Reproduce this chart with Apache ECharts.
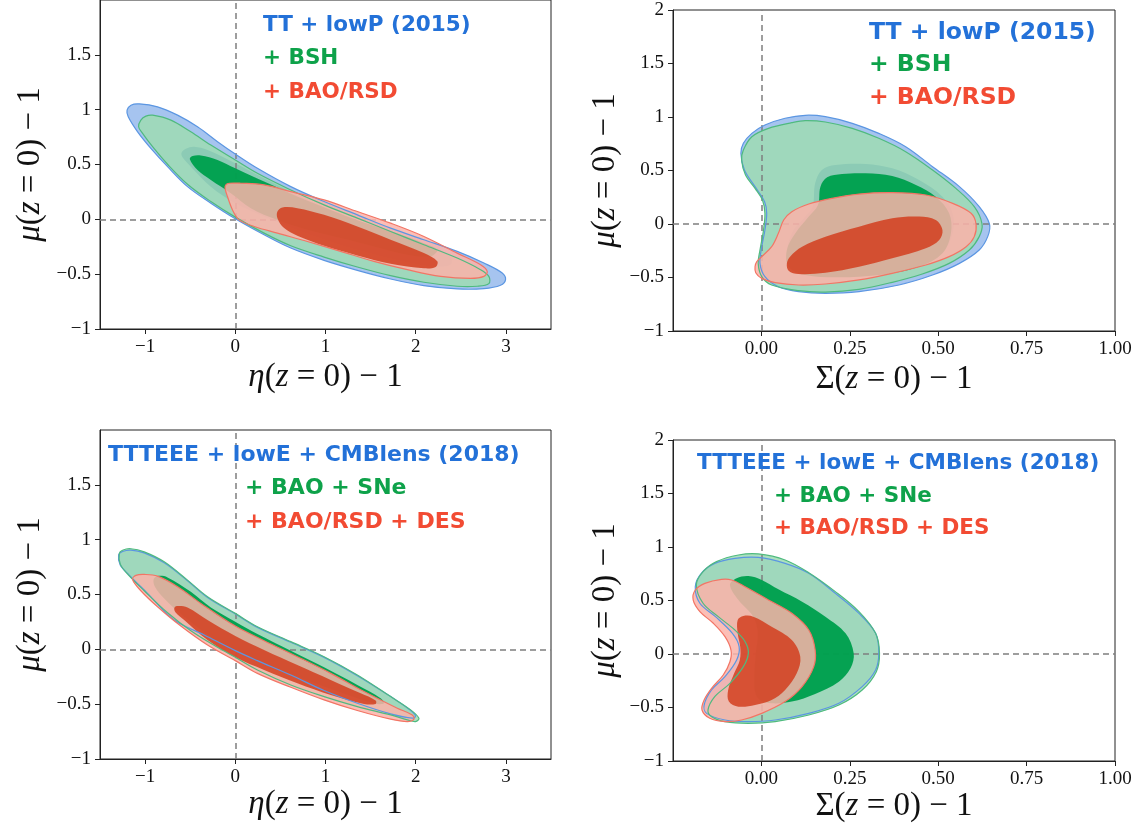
<!DOCTYPE html>
<html><head><meta charset="utf-8">
<script src="https://cdn.jsdelivr.net/npm/echarts@6/dist/echarts.min.js"></script>
<style>html,body{margin:0;padding:0;background:#fff}#c{width:1146px;height:833px}</style>
</head><body><div id="c"></div>
<script>
// ---- tick labels ----
const etaTicks = [-1, 0, 1, 2, 3];
const sigmaTicks = [0, 0.25, 0.5, 0.75, 1];
const muTicksLeft = [-1, -0.5, 0, 0.5, 1, 1.5];
const muTicksRight = [-1, -0.5, 0, 0.5, 1, 1.5, 2];
const legendTop = ['TT + lowP (2015)', '+ BSH', '+ BAO/RSD'];
const legendBottom = ['TTTEEE + lowE + CMBlens (2018)', '+ BAO + SNe', '+ BAO/RSD + DES'];

// ---- Panel A: eta vs mu (2015) ----
const A_blueOuter = [[-1.20,0.995],[-1.157,1.041],[-1.065,1.053],[-0.862,1.026],[-0.64,0.95],[-0.419,0.844],[-0.197,0.708],[0,0.595],[0.245,0.465],[0.615,0.298],[0.984,0.162],[1.353,0.041],[1.722,-0.08],[2.091,-0.186],[2.46,-0.292],[2.756,-0.398],[2.959,-0.489],[2.996,-0.55],[2.94,-0.601],[2.756,-0.632],[2.46,-0.635],[2.091,-0.605],[1.722,-0.544],[1.353,-0.465],[0.984,-0.374],[0.615,-0.262],[0.319,-0.141],[0,0.005],[-0.271,0.147],[-0.53,0.298],[-0.751,0.48],[-0.936,0.647],[-1.083,0.798],[-1.187,0.935]];
const A_blueInner = [[-0.596,0.608],[-0.548,0.644],[-0.456,0.662],[-0.308,0.632],[0,0.511],[0.319,0.374],[0.688,0.223],[1.058,0.086],[1.427,-0.035],[1.796,-0.141],[2.165,-0.247],[2.387,-0.338],[2.387,-0.413],[2.202,-0.428],[1.796,-0.368],[1.427,-0.292],[1.058,-0.201],[0.688,-0.095],[0.319,0.026],[0,0.147],[-0.271,0.298],[-0.493,0.48],[-0.585,0.565]];
const A_greenOuter = [[-1.072,0.844],[-1.047,0.905],[-0.991,0.941],[-0.917,0.95],[-0.714,0.905],[-0.493,0.798],[-0.271,0.677],[0,0.541],[0.245,0.42],[0.615,0.268],[0.984,0.132],[1.353,0.011],[1.722,-0.111],[2.091,-0.232],[2.46,-0.353],[2.719,-0.459],[2.811,-0.52],[2.811,-0.586],[2.682,-0.61],[2.46,-0.61],[2.091,-0.574],[1.722,-0.514],[1.353,-0.435],[0.984,-0.344],[0.615,-0.241],[0.319,-0.126],[0,0.02],[-0.271,0.162],[-0.53,0.32],[-0.751,0.502],[-0.917,0.662],[-1.028,0.784]];
const A_greenInner = [[-0.504,0.547],[-0.474,0.577],[-0.382,0.583],[-0.197,0.541],[0,0.465],[0.319,0.344],[0.688,0.208],[1.058,0.086],[1.427,-0.029],[1.796,-0.126],[2.091,-0.217],[2.239,-0.277],[2.165,-0.338],[1.907,-0.323],[1.537,-0.247],[1.168,-0.171],[0.799,-0.095],[0.467,-0.005],[0.172,0.102],[-0.05,0.238],[-0.271,0.359],[-0.419,0.45]];
const A_redOuter = [[-0.113,0.283],[-0.105,0.314],[-0.068,0.329],[0.061,0.329],[0.319,0.314],[0.615,0.253],[0.984,0.177],[1.353,0.071],[1.722,-0.035],[2.091,-0.156],[2.46,-0.308],[2.719,-0.414],[2.793,-0.474],[2.756,-0.52],[2.608,-0.538],[2.276,-0.52],[1.907,-0.459],[1.537,-0.383],[1.168,-0.292],[0.799,-0.202],[0.467,-0.126],[0.209,-0.065],[0.042,-0.005],[-0.031,0.086],[-0.087,0.208]];
const A_redInner = [[0.467,0.011],[0.467,0.071],[0.522,0.108],[0.688,0.102],[0.984,0.041],[1.353,-0.065],[1.722,-0.186],[2.091,-0.308],[2.239,-0.383],[2.221,-0.435],[2.091,-0.447],[1.722,-0.405],[1.353,-0.329],[0.984,-0.241],[0.688,-0.15],[0.541,-0.08]];

// ---- Panel B: Sigma vs mu (2015) ----
const B_blueOuter = [[-0.058,0.66],[-0.051,0.754],[-0.027,0.847],[0.01,0.925],[0.067,0.988],[0.124,1.016],[0.181,1.003],[0.257,0.941],[0.332,0.847],[0.408,0.723],[0.484,0.536],[0.56,0.349],[0.616,0.162],[0.645,0],[0.64,-0.118],[0.616,-0.243],[0.56,-0.368],[0.484,-0.477],[0.389,-0.57],[0.276,-0.632],[0.181,-0.648],[0.105,-0.632],[0.048,-0.586],[0.01,-0.492],[-0.004,-0.368],[0.001,-0.212],[0.01,-0.056],[0.015,0.1],[0.009,0.209],[-0.018,0.349],[-0.048,0.505]];
const B_blueInner = [[0.145,0.162],[0.152,0.38],[0.171,0.505],[0.209,0.551],[0.295,0.561],[0.37,0.52],[0.446,0.411],[0.512,0.255],[0.541,0.1],[0.541,-0.087],[0.512,-0.274],[0.446,-0.399],[0.323,-0.477],[0.2,-0.492],[0.105,-0.445],[0.072,-0.336],[0.086,-0.087],[0.124,0.069]];
const B_greenOuter = [[-0.056,0.598],[-0.051,0.692],[-0.027,0.816],[0.02,0.894],[0.086,0.947],[0.124,0.966],[0.181,0.953],[0.257,0.894],[0.332,0.801],[0.408,0.676],[0.484,0.505],[0.55,0.333],[0.602,0.162],[0.624,0],[0.616,-0.118],[0.588,-0.243],[0.531,-0.368],[0.455,-0.467],[0.37,-0.545],[0.276,-0.611],[0.181,-0.636],[0.105,-0.623],[0.029,-0.57],[0.001,-0.492],[-0.009,-0.368],[-0.004,-0.243],[0.006,-0.056],[0.01,0.1],[0.003,0.224],[-0.018,0.333],[-0.045,0.458]];
const B_greenInner = [[0.16,0.178],[0.167,0.349],[0.186,0.436],[0.228,0.467],[0.295,0.474],[0.37,0.449],[0.437,0.364],[0.493,0.255],[0.531,0.1],[0.536,-0.087],[0.512,-0.274],[0.446,-0.399],[0.332,-0.477],[0.219,-0.498],[0.124,-0.477],[0.077,-0.399],[0.072,-0.243],[0.096,-0.087],[0.134,0.069]];
const B_redOuter = [[-0.018,-0.399],[-0.013,-0.352],[0.001,-0.305],[0.029,-0.212],[0.048,-0.087],[0.063,0.037],[0.086,0.115],[0.134,0.187],[0.2,0.24],[0.276,0.28],[0.37,0.293],[0.465,0.271],[0.541,0.193],[0.593,0.1],[0.607,0],[0.602,-0.118],[0.579,-0.212],[0.531,-0.305],[0.465,-0.383],[0.37,-0.461],[0.276,-0.523],[0.181,-0.561],[0.105,-0.57],[0.039,-0.548],[0.001,-0.508],[-0.016,-0.455]];
const B_redInner = [[0.072,-0.368],[0.081,-0.305],[0.115,-0.212],[0.181,-0.118],[0.276,-0.025],[0.37,0.053],[0.446,0.069],[0.493,0.037],[0.512,-0.056],[0.503,-0.15],[0.465,-0.227],[0.37,-0.321],[0.276,-0.399],[0.181,-0.455],[0.105,-0.467],[0.077,-0.436]];

// ---- Panel C: eta vs mu (2018) ----
const C_blueOuter = [[-1.294,0.859],[-1.25,0.892],[-1.157,0.905],[-1.01,0.88],[-0.788,0.789],[-0.53,0.625],[-0.308,0.473],[0,0.322],[0.245,0.2],[0.615,0.064],[0.984,-0.073],[1.353,-0.24],[1.722,-0.431],[1.925,-0.546],[1.999,-0.607],[1.962,-0.628],[1.722,-0.589],[1.353,-0.492],[0.984,-0.376],[0.615,-0.234],[0.245,-0.103],[0,-0.012],[-0.345,0.131],[-0.678,0.267],[-0.973,0.51],[-1.176,0.677],[-1.275,0.768]];
const C_greenOuter = [[-1.286,0.874],[-1.25,0.904],[-1.157,0.917],[-1.01,0.889],[-0.788,0.798],[-0.53,0.631],[-0.308,0.48],[0,0.328],[0.245,0.206],[0.615,0.07],[0.984,-0.067],[1.353,-0.234],[1.722,-0.431],[1.944,-0.552],[2.036,-0.628],[1.999,-0.659],[1.907,-0.643],[1.722,-0.598],[1.353,-0.522],[0.984,-0.431],[0.615,-0.325],[0.245,-0.188],[0,-0.073],[-0.197,0.018],[-0.493,0.17],[-0.751,0.334],[-1.01,0.534],[-1.194,0.686],[-1.275,0.777]];
const C_greenInner = [[-0.906,0.637],[-0.862,0.668],[-0.751,0.656],[-0.493,0.525],[-0.271,0.382],[0,0.252],[0.245,0.14],[0.615,-0.012],[0.984,-0.164],[1.353,-0.325],[1.611,-0.446],[1.648,-0.492],[1.574,-0.498],[1.353,-0.446],[0.984,-0.34],[0.615,-0.225],[0.245,-0.103],[0,-0.012],[-0.271,0.115],[-0.567,0.297],[-0.788,0.464],[-0.891,0.571]];
const C_redOuter = [[-1.139,0.637],[-1.102,0.674],[-1.01,0.683],[-0.862,0.668],[-0.64,0.571],[-0.382,0.419],[0,0.212],[0.319,0.079],[0.688,-0.067],[1.058,-0.219],[1.427,-0.385],[1.796,-0.537],[1.962,-0.598],[1.981,-0.637],[1.907,-0.659],[1.722,-0.637],[1.353,-0.558],[0.984,-0.461],[0.615,-0.346],[0.245,-0.219],[0,-0.103],[-0.308,0.039],[-0.604,0.212],[-0.862,0.388],[-1.047,0.534]];
const C_redInner = [[-0.677,0.373],[-0.648,0.395],[-0.53,0.382],[-0.308,0.267],[0,0.121],[0.319,-0.006],[0.688,-0.143],[1.058,-0.279],[1.39,-0.401],[1.556,-0.467],[1.556,-0.498],[1.427,-0.498],[1.058,-0.416],[0.688,-0.31],[0.319,-0.188],[0,-0.073],[-0.308,0.085],[-0.567,0.267],[-0.659,0.334]];

// ---- Panel D: Sigma vs mu (2018) ----
const D_blueOuter = [[-0.187,0.629],[-0.17,0.754],[-0.132,0.847],[-0.075,0.894],[-0.009,0.903],[0.067,0.847],[0.134,0.754],[0.209,0.567],[0.276,0.38],[0.323,0.193],[0.332,0.006],[0.323,-0.15],[0.285,-0.305],[0.219,-0.461],[0.134,-0.555],[0.039,-0.617],[-0.037,-0.632],[-0.103,-0.617],[-0.155,-0.555],[-0.162,-0.477],[-0.141,-0.336],[-0.103,-0.212],[-0.07,-0.056],[-0.063,0.069],[-0.082,0.193],[-0.13,0.349],[-0.174,0.474]];
const D_greenOuter = [[-0.184,0.645],[-0.165,0.769],[-0.127,0.863],[-0.065,0.925],[-0.009,0.935],[0.067,0.879],[0.134,0.76],[0.209,0.583],[0.276,0.396],[0.323,0.193],[0.334,0.006],[0.325,-0.165],[0.285,-0.336],[0.219,-0.477],[0.134,-0.57],[0.039,-0.632],[-0.037,-0.648],[-0.103,-0.632],[-0.141,-0.586],[-0.151,-0.523],[-0.132,-0.399],[-0.089,-0.274],[-0.051,-0.118],[-0.037,0.006],[-0.046,0.115],[-0.075,0.224],[-0.122,0.349],[-0.165,0.474]];
const D_greenInner = [[-0.089,0.645],[-0.07,0.707],[-0.037,0.729],[0.001,0.692],[0.048,0.604],[0.115,0.489],[0.181,0.349],[0.238,0.193],[0.261,0.006],[0.252,-0.134],[0.219,-0.259],[0.152,-0.374],[0.086,-0.445],[0.029,-0.461],[-0.004,-0.43],[-0.018,-0.352],[-0.02,-0.212],[-0.016,0.006],[-0.01,0.193],[-0.023,0.349],[-0.065,0.505]];
const D_redOuter = [[-0.193,0.505],[-0.187,0.598],[-0.16,0.66],[-0.113,0.698],[-0.084,0.692],[-0.046,0.629],[0.02,0.505],[0.086,0.38],[0.134,0.224],[0.152,0.037],[0.148,-0.118],[0.115,-0.305],[0.067,-0.445],[0.001,-0.555],[-0.056,-0.617],[-0.103,-0.632],[-0.146,-0.601],[-0.168,-0.523],[-0.162,-0.43],[-0.141,-0.321],[-0.108,-0.196],[-0.089,-0.072],[-0.086,0.037],[-0.103,0.162],[-0.136,0.287],[-0.174,0.396]];
const D_redInner = [[-0.067,0.318],[-0.051,0.355],[-0.023,0.349],[0.029,0.255],[0.086,0.131],[0.11,-0.025],[0.1,-0.181],[0.067,-0.336],[0.029,-0.43],[-0.018,-0.477],[-0.065,-0.492],[-0.092,-0.445],[-0.094,-0.336],[-0.077,-0.181],[-0.061,-0.056],[-0.06,0.069],[-0.067,0.193]];

// ---- styles ----
const COL = {
  blueOuter: '#a6c4ef', blueInner: '#2a6bc2',
  greenOuter: 'rgba(158,220,179,0.85)', greenInner: 'rgba(0,160,78,0.97)',
  redOuter: 'rgba(252,179,169,0.85)', redInner: 'rgba(210,62,30,0.85)',
  blueEdge: '#5b96e2', greenEdge: '#4fba7f', redEdge: '#f27565',
  blueText: '#2371d8', greenText: '#0ea24a', redText: '#f24b33'
};
const SERIF = '"Liberation Serif", "DejaVu Serif", serif';
const SANS = '"DejaVu Sans", sans-serif';

function polySeries(g, pts, fill, stroke, z) {
  return {
    type: 'custom', xAxisIndex: g, yAxisIndex: g, data: pts, z: z,
    silent: true, animation: false,
    renderItem: function (params, api) {
      if (params.dataIndex !== 0) return null;
      const p = pts.map(function (d) { return api.coord(d); });
      return {
        type: 'polygon', shape: { points: p, smooth: 0.35 },
        style: stroke ? { fill: 'none', stroke: stroke, lineWidth: 1.2 } : { fill: fill }
      };
    }
  };
}
function refLines(g) {
  return {
    type: 'line', xAxisIndex: g, yAxisIndex: g, data: [], z: 20, silent: true, animation: false,
    markLine: {
      silent: true, symbol: ['none', 'none'], label: { show: false }, animation: false,
      lineStyle: { color: '#7f7f7f', type: [6, 4], width: 1.5 },
      data: [{ xAxis: 0 }, { yAxis: 0 }]
    }
  };
}
function panelSeries(g, s) {
  const out = [];
  out.push(polySeries(g, s.bo, COL.blueOuter, null, 2));
  if (s.bi) out.push(polySeries(g, s.bi, COL.blueInner, null, 3));
  out.push(polySeries(g, s.go, COL.greenOuter, null, 4));
  out.push(polySeries(g, s.gi, COL.greenInner, null, 5));
  out.push(polySeries(g, s.ro, COL.redOuter, null, 6));
  out.push(polySeries(g, s.ri, COL.redInner, null, 7));
  out.push(polySeries(g, s.bo, null, COL.blueEdge, 10));
  out.push(polySeries(g, s.go, null, COL.greenEdge, 11));
  out.push(polySeries(g, s.ro, null, COL.redEdge, 12));
  out.push(refLines(g));
  return out;
}

const fmtMu = function (v) { return (v < 0 ? '\u2212' : '') + Math.abs(v); };
const fmtSig = function (v) { return v.toFixed(2); };
const NAME_FS = 33;
const nameStyle = {
  fontFamily: SERIF, fontSize: NAME_FS, color: '#111',
  rich: { i: { fontFamily: SERIF, fontSize: NAME_FS, fontStyle: 'italic', color: '#111' } }
};
function axisCommon(ticks, fmt) {
  return {
    type: 'value', splitLine: { show: false },
    axisLine: { show: true, onZero: false, lineStyle: { color: '#222', width: 1 } },
    axisTick: { show: true, inside: false, length: 5, lineStyle: { color: '#222' }, customValues: ticks },
    axisLabel: { customValues: ticks, formatter: fmt, color: '#111', fontFamily: SERIF, fontSize: 19, margin: 9 }
  };
}
function mkX(g, min, max, ticks, fmt, gap, name) {
  return Object.assign(axisCommon(ticks, fmt), {
    gridIndex: g, min: min, max: max, name: name, nameLocation: 'middle', nameGap: gap, nameTextStyle: nameStyle
  });
}
function mkY(g, ticks, gap) {
  return Object.assign(axisCommon(ticks, fmtMu), {
    gridIndex: g, min: -1, max: 2, name: '{i|\u03bc}({i|z} = 0) \u2212 1', nameLocation: 'middle', nameGap: gap, nameTextStyle: nameStyle
  });
}
const ETA_NAME = '{i|\u03b7}({i|z} = 0) \u2212 1';
const SIG_NAME = '\u03a3({i|z} = 0) \u2212 1';
const xA = mkX(0, -1.5, 3.5, etaTicks, fmtMu, 32, ETA_NAME);
const xB = mkX(1, -0.25, 1, sigmaTicks, fmtSig, 32, SIG_NAME);
const xC = mkX(2, -1.5, 3.5, etaTicks, fmtMu, 27, ETA_NAME);
const xD = mkX(3, -0.25, 1, sigmaTicks, fmtSig, 27, SIG_NAME);

const gridBase = { show: true, borderColor: '#222', borderWidth: 1, backgroundColor: 'transparent' };
function txt(x, y, t, color, size) {
  return { type: 'text', x: x, y: y, z: 100,
    style: { text: t, fill: color, font: 'bold ' + size + 'px ' + SANS, verticalAlign: 'middle', align: 'left' } };
}

const chart = echarts.init(document.getElementById('c'), null, { renderer: 'canvas' });
chart.setOption({
  backgroundColor: '#fff',
  animation: false,
  grid: [
    Object.assign({ left: 100, top: 0, width: 451, height: 329 }, gridBase),
    Object.assign({ left: 673, top: 10, width: 442, height: 321 }, gridBase),
    Object.assign({ left: 100, top: 430, width: 451, height: 329 }, gridBase),
    Object.assign({ left: 673, top: 440, width: 442, height: 321 }, gridBase)
  ],
  xAxis: [xA, xB, xC, xD],
  yAxis: [mkY(0, muTicksLeft, 53), mkY(1, muTicksRight, 51), mkY(2, muTicksLeft, 53), mkY(3, muTicksRight, 51)],
  series: [].concat(
    panelSeries(0, { bo: A_blueOuter, bi: A_blueInner, go: A_greenOuter, gi: A_greenInner, ro: A_redOuter, ri: A_redInner }),
    panelSeries(1, { bo: B_blueOuter, bi: B_blueInner, go: B_greenOuter, gi: B_greenInner, ro: B_redOuter, ri: B_redInner }),
    panelSeries(2, { bo: C_blueOuter, go: C_greenOuter, gi: C_greenInner, ro: C_redOuter, ri: C_redInner }),
    panelSeries(3, { bo: D_blueOuter, go: D_greenOuter, gi: D_greenInner, ro: D_redOuter, ri: D_redInner })
  ),
  graphic: [
    txt(263, 25, legendTop[0], COL.blueText, 21.5),
    txt(263, 58, legendTop[1], COL.greenText, 21.5),
    txt(263, 92, legendTop[2], COL.redText, 21.5),
    txt(869, 33, legendTop[0], COL.blueText, 23.5),
    txt(869, 65, legendTop[1], COL.greenText, 23.5),
    txt(869, 98, legendTop[2], COL.redText, 23.5),
    txt(108, 455, legendBottom[0], COL.blueText, 22),
    txt(245, 488, legendBottom[1], COL.greenText, 22),
    txt(245, 522, legendBottom[2], COL.redText, 22),
    txt(697, 463, legendBottom[0], COL.blueText, 21.5),
    txt(774, 496, legendBottom[1], COL.greenText, 21.5),
    txt(774, 528, legendBottom[2], COL.redText, 21.5)
  ]
});
</script></body></html>
